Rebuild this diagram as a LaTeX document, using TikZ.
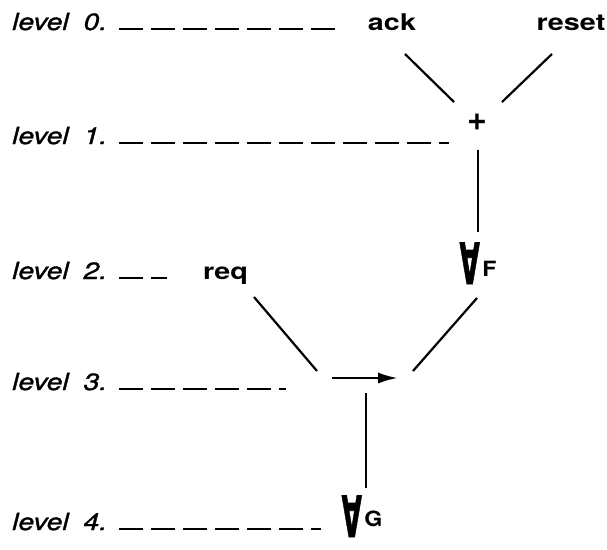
\documentclass[tikz,border=0pt]{standalone}
\usepackage{fontspec}
\usetikzlibrary{arrows.meta}
\setmainfont{TeX Gyre Heros}
\newfontfamily\lvlfont{TeX Gyre Heros}[FakeStretch=1.2,FakeBold=1.3]
\newfontfamily\varfont{TeX Gyre Heros}[FakeStretch=1.25]
\newfontfamily\subfont{TeX Gyre Heros}[FakeStretch=1.1]
\newfontfamily\quantfont{DejaVu Sans}[FakeBold=1.5]
% tall, narrow universal quantifier
\newcommand{\quant}{\scalebox{0.46}[1]{\fontsize{57}{57}\selectfont\quantfont\bfseries ∀}}
\newcommand{\qsub}[2]{\quant\hspace{2.5pt}\raisebox{#1}{\fontsize{21}{22}\selectfont\subfont\bfseries #2}}
\begin{document}
\begin{tikzpicture}[x=1pt,y=-1pt,
  lvl/.style={anchor=base west,inner sep=0,font=\fontsize{23.5}{24}\selectfont\lvlfont\itshape},
  var/.style={anchor=base,inner sep=0,font=\fontsize{23}{24}\selectfont\varfont\bfseries},
  opnode/.style={anchor=base,inner sep=0},
  guide/.style={line width=2.2pt,dash pattern=on 24pt off 8pt},
  edge/.style={line width=2.2pt},
]
\useasboundingbox (0,0) rectangle (607,549);

% level labels
\node[lvl] (l0) at (12,30)  {level\hspace{15pt}0.};
\node[lvl] (l1) at (12,144) {level\hspace{15pt}1.};
\node[lvl] (l2) at (12,279) {level\hspace{15pt}2.};
\node[lvl] (l3) at (12,390) {level\hspace{15pt}3.};
\node[lvl] (l4) at (12,530) {level\hspace{15pt}4.};

% dashed guides
\draw[guide] ([xshift=12pt,yshift=1pt]l0.base east) -- ++(216,0);
\draw[guide] ([xshift=12pt,yshift=1pt]l1.base east) -- ++(330,0);
\draw[guide] ([xshift=12pt,yshift=1pt]l2.base east) -- ++(48,0);
\draw[guide] ([xshift=12pt,yshift=1pt]l3.base east) -- ++(167,0);
\draw[guide] ([xshift=12pt,yshift=1pt]l4.base east) -- ++(202,0);

% formula tree
\node[var] (ack)   at (392,30)    {ack};
\node[var] (reset) at (571,30)    {reset};
\node[inner sep=0,font=\fontsize{34}{34}\selectfont\bfseries] (plus) at (477,122) {+};
\node[opnode] (faF) at (478,284)  {\qsub{8pt}{F}};
\node[var] (req)   at (225.5,279) {req};
\node[inner sep=0,minimum width=66pt,minimum height=12pt] (imp) at (365,378) {};
\node[opnode] (faG) at (362,537)  {\qsub{11pt}{G}};

% implication arrow
\draw[line width=2.8pt,-{Latex[length=20pt,width=11pt]}] (imp.west) -- (imp.east);

% edges
\draw[edge] ([shift={(13,24)}]ack.base)    -- ([shift={(-23,-20)}]plus.center);
\draw[edge] ([shift={(-19,24)}]reset.base) -- ([shift={(25,-20)}]plus.center);
\draw[edge] ([shift={(1,28)}]plus.center)  -- ([shift={(0,-52)}]faF.base);
\draw[edge] ([shift={(28.5,18)}]req.base)  -- ([shift={(-48,-7)}]imp.center);
\draw[edge] ([shift={(-1,14)}]faF.base)    -- ([shift={(48,-7)}]imp.center);
\draw[edge] ([shift={(1,15)}]imp.center)   -- ([shift={(4,-49)}]faG.base);
\end{tikzpicture}
\end{document}
